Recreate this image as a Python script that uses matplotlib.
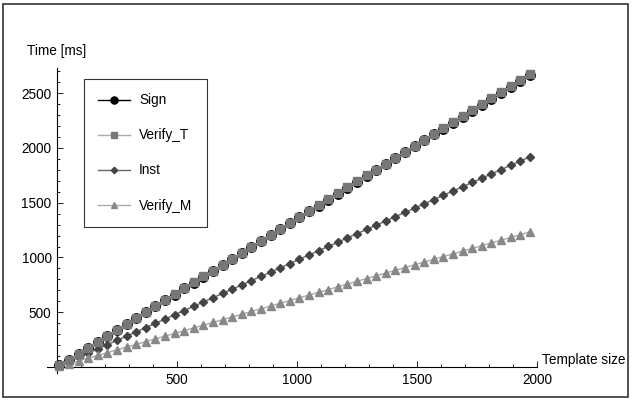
import matplotlib
matplotlib.use("Agg")
import matplotlib.pyplot as plt
from matplotlib.patches import Rectangle
from matplotlib.ticker import MultipleLocator, FixedLocator

plt.rcParams["font.family"] = ["Liberation Sans", "DejaVu Sans"]

# template sizes
template_size = [10, 50, 90, 130, 170, 210, 250, 290, 330, 370,
                 410, 450, 490, 530, 570, 610, 650, 690, 730, 770,
                 810, 850, 890, 930, 970, 1010, 1050, 1090, 1130, 1170,
                 1210, 1250, 1290, 1330, 1370, 1410, 1450, 1490, 1530, 1570,
                 1610, 1650, 1690, 1730, 1770, 1810, 1850, 1890, 1930, 1970]

# times in ms
sign_ms = [14, 68, 122, 176, 230, 284, 338, 392, 446, 500,
           554, 608, 662, 717, 771, 825, 879, 933, 987, 1041,
           1095, 1149, 1203, 1257, 1311, 1366, 1420, 1474, 1528, 1582,
           1636, 1690, 1744, 1798, 1852, 1906, 1960, 2014, 2069, 2123,
           2177, 2231, 2285, 2339, 2393, 2447, 2501, 2555, 2609, 2663]
verify_t_ms = [14, 68, 122, 176, 231, 285, 339, 393, 447, 502,
               556, 610, 664, 719, 773, 827, 881, 936, 990, 1044,
               1098, 1153, 1207, 1261, 1315, 1370, 1424, 1478, 1532, 1587,
               1641, 1695, 1749, 1803, 1858, 1912, 1966, 2020, 2075, 2129,
               2183, 2237, 2292, 2346, 2400, 2454, 2509, 2563, 2617, 2671]
inst_ms = [10, 49, 88, 127, 166, 205, 244, 282, 321, 360,
           399, 438, 477, 516, 555, 594, 633, 672, 711, 750,
           789, 828, 867, 906, 945, 984, 1023, 1062, 1101, 1140,
           1179, 1218, 1256, 1295, 1334, 1373, 1412, 1451, 1490, 1529,
           1568, 1607, 1646, 1685, 1724, 1763, 1802, 1841, 1880, 1919]
verify_m_ms = [6, 31, 56, 81, 106, 131, 157, 182, 207, 232,
               257, 282, 307, 332, 357, 382, 407, 432, 457, 482,
               507, 532, 557, 582, 607, 632, 657, 682, 707, 732,
               757, 783, 808, 833, 858, 883, 908, 933, 958, 983,
               1008, 1033, 1058, 1083, 1108, 1133, 1158, 1183, 1208, 1233]

FS = 9.8

fig = plt.figure(figsize=(6.32, 4.01), dpi=100)
ax = fig.add_axes([47 / 632, 28.5 / 401, 490 / 632, 304.5 / 401])

ax.plot(template_size, sign_ms, "-o", color="black", lw=1.0,
        markersize=6.8, label="Sign", zorder=3)
ax.plot(template_size, verify_t_ms, "-s", color="#aaaaaa", lw=1.0,
        markerfacecolor="#777777", markeredgecolor="#777777",
        markersize=6.3, label="Verify_T", zorder=4)
ax.plot(template_size, inst_ms, "-D", color="#666666", lw=1.0,
        markerfacecolor="#444444", markeredgecolor="#444444",
        markersize=4.3, label="Inst", zorder=3)
ax.plot(template_size, verify_m_ms, "-^", color="#aaaaaa", lw=1.0,
        markerfacecolor="#888888", markeredgecolor="#888888",
        markersize=5.5, label="Verify_M", zorder=3)

ax.set_xlim(-42, 2000)
ax.set_ylim(-50, 2730)

for side in ["top", "right"]:
    ax.spines[side].set_visible(False)
ax.spines["left"].set_position(("data", 0))
ax.spines["bottom"].set_position(("data", 0))
ax.spines["left"].set_linewidth(0.8)
ax.spines["bottom"].set_linewidth(0.8)

ax.xaxis.set_major_locator(FixedLocator([500, 1000, 1500, 2000]))
ax.xaxis.set_minor_locator(MultipleLocator(100))
ax.yaxis.set_major_locator(FixedLocator([500, 1000, 1500, 2000, 2500]))
ax.yaxis.set_minor_locator(MultipleLocator(100))
ax.tick_params(which="both", direction="in", labelsize=FS, width=0.6)
ax.tick_params(which="major", length=4, pad=4)
ax.tick_params(which="minor", length=2)

ax.text(-0.041, 1.055, "Time [ms]", transform=ax.transAxes, fontsize=FS,
        ha="left", va="center")
ax.text(2020, 0, "Template size", fontsize=FS, ha="left", va="bottom")

leg = ax.legend(loc="upper left", bbox_to_anchor=(37 / 490, 1 - 11 / 304.5),
                frameon=True, fancybox=False, edgecolor="black",
                fontsize=FS, labelspacing=1.55, handlelength=2.3,
                borderpad=1.05, handletextpad=0.7, borderaxespad=0,
                markerscale=0.75)
leg.get_frame().set_linewidth(0.8)

fig.patches.append(Rectangle((3 / 632, 4 / 401), 625 / 632, 393 / 401,
                             transform=fig.transFigure, fill=False,
                             edgecolor="#333333", lw=1.2))

fig.savefig("out.png", dpi=100)
